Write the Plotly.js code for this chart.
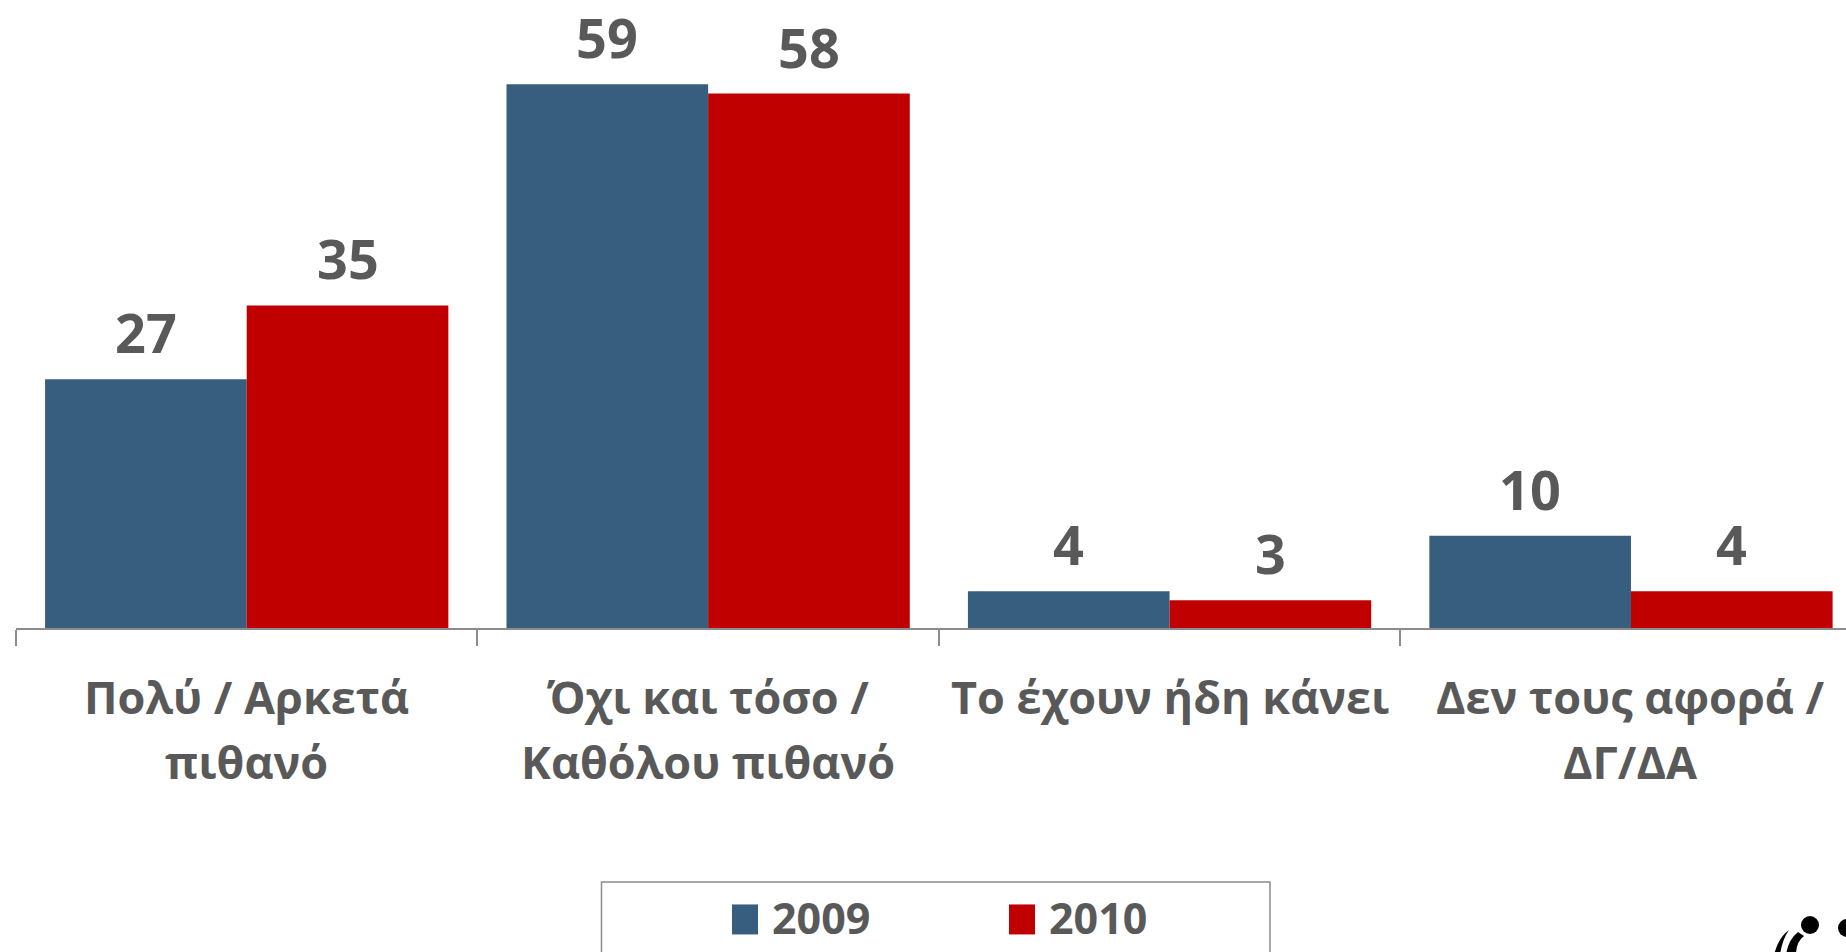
<!DOCTYPE html>
<html>
<head>
<meta charset="utf-8">
<script src="https://cdn.plot.ly/plotly-3.0.1.min.js"></script>
<style>
  html, body { margin: 0; padding: 0; background: #ffffff; }
  #chart { width: 1846px; height: 952px; }
</style>
</head>
<body>
<div id="chart"></div>
<script>
// Survey answers, two waves
const categories = ["Πολύ / Αρκετά πιθανό", "Όχι και τόσο / Καθόλου πιθανό", "Το έχουν ήδη κάνει", "Δεν τους αφορά / ΔΓ/ΔΑ"];
const categoryLines = [
  ["Πολύ / Αρκετά", "πιθανό"],
  ["Όχι και τόσο /", "Καθόλου πιθανό"],
  ["Το έχουν ήδη κάνει"],
  ["Δεν τους αφορά /", "ΔΓ/ΔΑ"]
];
const seriesNames = ["2009", "2010"];
const values2009 = [27, 59, 4, 10];
const values2010 = [35, 58, 3, 4];

const W = 1846, H = 952;
const M = { l: 16, r: 0, t: 0, b: 324 };
const plotW = W - M.l - M.r, plotH = H - M.t - M.b;
const TEXT = "#595959";
const FONT = "Open Sans, Noto Sans, sans-serif";
const BAR_GAP = 0.126;
const halfBar = (1 - BAR_GAP) / 4;

// pixel -> paper helpers for decoration shapes
const px = x => (x - M.l) / plotW;
const py = y => (M.t + plotH - y) / plotH;

const traces = [
  { name: seriesNames[0], values: values2009, color: "#375D7F" },
  { name: seriesNames[1], values: values2010, color: "#C00000" }
].map(s => ({
  type: "bar",
  name: s.name,
  x: categories,
  y: s.values,
  marker: { color: s.color, line: { width: 0 } },
  hoverinfo: "x+y+name"
}));

const annotations = [];
// value labels above each bar
[values2009, values2010].forEach((vals, si) => {
  vals.forEach((v, i) => {
    annotations.push({
      xref: "x", yref: "y",
      x: i + (si === 0 ? -halfBar : halfBar), y: v,
      text: String(v), showarrow: false,
      yanchor: "middle", yshift: 47,
      font: { family: FONT, size: 54, color: TEXT, weight: "bold" }
    });
  });
});
// category labels under the axis
categoryLines.forEach((lines, i) => {
  lines.forEach((line, li) => {
    annotations.push({
      xref: "x", yref: "paper",
      x: i, y: 0,
      text: line, showarrow: false,
      yanchor: "middle", yshift: -68 - 65 * li,
      font: { family: FONT, size: 45, color: TEXT, weight: "bold" }
    });
  });
});

const shapes = [
  // legend frame
  { type: "rect", xref: "paper", yref: "paper",
    x0: px(601.5), x1: px(1270), y0: py(960), y1: py(882),
    line: { color: "#8C8C8C", width: 1.5 }, fillcolor: "rgba(0,0,0,0)" },
  // logo mark in the corner
  { type: "circle", xref: "paper", yref: "paper",
    x0: px(1801), x1: px(1819), y0: py(934), y1: py(916),
    fillcolor: "#000000", line: { width: 0 } },
  { type: "circle", xref: "paper", yref: "paper",
    x0: px(1838), x1: px(1856), y0: py(937), y1: py(919),
    fillcolor: "#000000", line: { width: 0 } },
  { type: "path", xref: "paper", yref: "paper",
    path: `M ${px(1789)} ${py(930)} Q ${px(1778)} ${py(938)} ${px(1774)} ${py(955)} L ${px(1780)} ${py(955)} Q ${px(1782)} ${py(940)} ${px(1789)} ${py(930)} Z`,
    fillcolor: "#000000", line: { width: 0 } },
  { type: "path", xref: "paper", yref: "paper",
    path: `M ${px(1798)} ${py(932)} Q ${px(1788)} ${py(940)} ${px(1786)} ${py(955)} L ${px(1796)} ${py(955)} Q ${px(1796)} ${py(942)} ${px(1804)} ${py(936)} Z`,
    fillcolor: "#000000", line: { width: 0 } }
];

const layout = {
  width: W, height: H,
  margin: M,
  paper_bgcolor: "#ffffff",
  plot_bgcolor: "#ffffff",
  barmode: "group",
  bargap: BAR_GAP,
  bargroupgap: 0,
  showlegend: true,
  legend: {
    orientation: "h",
    x: px(732), xanchor: "left",
    y: py(918), yanchor: "middle",
    entrywidth: 232,
    bgcolor: "rgba(0,0,0,0)",
    borderwidth: 0,
    font: { family: FONT, size: 43, color: TEXT, weight: "bold" }
  },
  xaxis: {
    type: "category",
    range: [-0.5, 3.466],
    showline: true, linecolor: "#8C8C8C", linewidth: 2,
    ticks: "outside", tickson: "boundaries",
    ticklen: 16, tickwidth: 2, tickcolor: "#8C8C8C",
    showticklabels: false,
    showgrid: false, zeroline: false, fixedrange: true
  },
  yaxis: {
    range: [0, 68.15],
    visible: false, showgrid: false, zeroline: false, fixedrange: true
  },
  annotations: annotations,
  shapes: shapes
};

const gd = document.getElementById("chart");
// legend swatches drawn as 26 x 30 px blocks
function enlargeSwatches() {
  gd.querySelectorAll(".legend .legendpoints path").forEach(p => {
    p.setAttribute("d", "M0,-13H26V17H0Z");
    p.removeAttribute("transform");
    p.style.strokeWidth = "0";
  });
}
Plotly.newPlot(gd, traces, layout, { displayModeBar: false, staticPlot: true })
  .then(() => {
    enlargeSwatches();
    gd.on("plotly_afterplot", enlargeSwatches);
  });
</script>
</body>
</html>
